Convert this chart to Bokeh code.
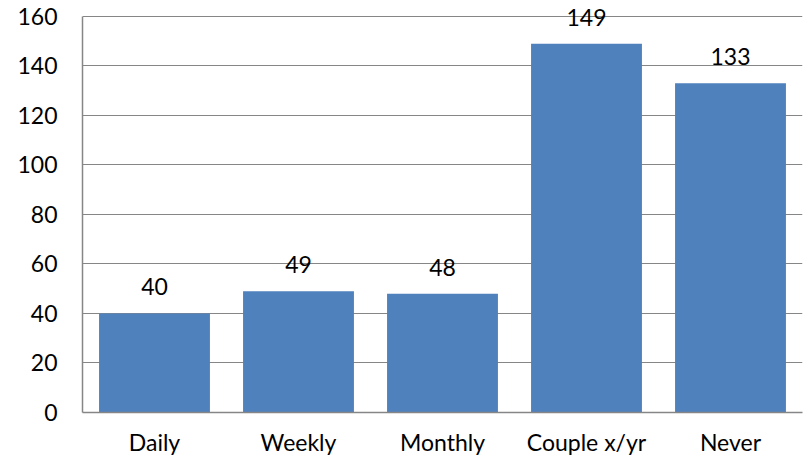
from bokeh.plotting import figure
from bokeh.models import ColumnDataSource, LabelSet, FixedTicker, FactorRange, Range1d
from bokeh.core.properties import value
from bokeh.embed import file_html
from bokeh.resources import INLINE

categories = ["Daily", "Weekly", "Monthly", "Couple x/yr", "Never"]
counts = [40, 49, 48, 149, 133]
y_ticks = [0, 20, 40, 60, 80, 100, 120, 140, 160]

FONT = "Lato"
FS = "23px"

source = ColumnDataSource(data=dict(cat=categories, val=counts,
                                    lab=[str(v) for v in counts]))

p = figure(width=805, height=462, x_range=FactorRange(*categories, range_padding=0),
           y_range=Range1d(0, 166.46), output_backend="svg", toolbar_location=None,
           min_border_left=82, min_border_right=3, min_border_top=0,
           min_border_bottom=50)
p.outline_line_color = None
p.background_fill_color = "white"

p.vbar(x="cat", top="val", width=0.77, source=source,
       fill_color="#4F81BD", line_color=None)

labels = LabelSet(x="cat", y="val", text="lab", source=source,
                  text_align="center", text_baseline="alphabetic",
                  y_offset=18, text_font=value(FONT), text_font_size=value(FS),
                  text_color="black")
p.add_layout(labels)

p.yaxis.ticker = FixedTicker(ticks=y_ticks)
p.yaxis.bounds = (0, 160)
p.ygrid.ticker = FixedTicker(ticks=y_ticks)
p.ygrid.grid_line_color = "#868686"
p.ygrid.grid_line_width = 1
p.xgrid.grid_line_color = None

for ax in (p.xaxis[0], p.yaxis[0]):
    ax.axis_line_color = "#868686"
    ax.axis_line_width = 1.5
    ax.major_tick_line_color = None
    ax.minor_tick_line_color = None
    ax.major_tick_out = 0
    ax.major_tick_in = 0
    ax.major_label_text_font = FONT
    ax.major_label_text_font_size = FS
    ax.major_label_text_color = "black"

p.yaxis.major_label_standoff = 25
p.xaxis.major_label_standoff = 15

open("out.html", "w").write(file_html(p, INLINE))
